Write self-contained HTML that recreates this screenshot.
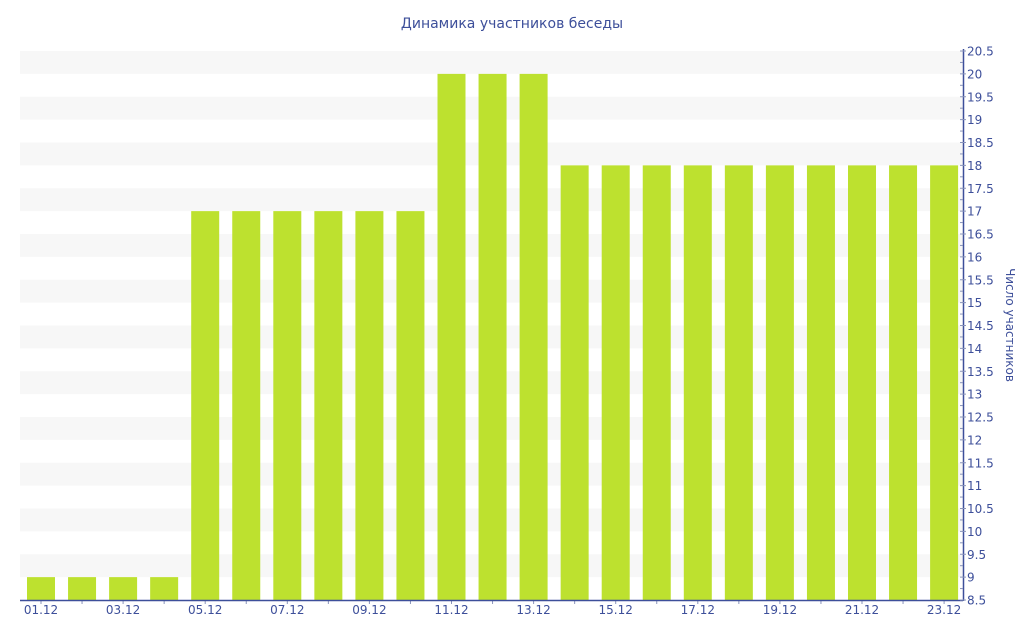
<!DOCTYPE html>
<html><head><meta charset="utf-8"><style>
html,body{margin:0;padding:0;background:#fff;width:1024px;height:640px;overflow:hidden}
text{font-family:"DejaVu Sans","Liberation Sans",sans-serif;fill:#3d4f9a}
</style></head><body>
<svg id="s" width="1024" height="640" xmlns="http://www.w3.org/2000/svg">
<text x="512" y="28" font-size="14" text-anchor="middle">Динамика участников беседы</text>
<g id="bands"></g><g id="bars"></g><g id="ax"></g>
<text transform="translate(1006,325) rotate(90)" font-size="12" text-anchor="middle">Число участников</text>
</svg>
<script>
var NS="http://www.w3.org/2000/svg";
function el(p,t,a,tx){var e=document.createElementNS(NS,t);for(var k in a)e.setAttribute(k,a[k]);if(tx!=null)e.textContent=tx;document.getElementById(p).appendChild(e);}
function Y(v){return 600-(v-8.5)*45.75;}
for(var k=9;k<=20;k++){el("bands","rect",{x:20,y:Y(k+0.5),width:943,height:Y(k)-Y(k+0.5),fill:"#f7f7f7"});}
var d=[9,9,9,9,17,17,17,17,17,17,20,20,20,18,18,18,18,18,18,18,18,18,18];
for(var i=0;i<23;i++){var c=41+41.05*i;el("bars","rect",{x:c-14,y:Y(d[i]),width:28,height:600-Y(d[i]),fill:"#bde12f"});
 el("ax","line",{x1:c,y1:600,x2:c,y2:604,stroke:"#8a94bb","stroke-width":1});
 if(i%2==0){var dd=(i+1<10?"0":"")+(i+1)+".12";el("ax","text",{x:c,y:614,"font-size":"12","text-anchor":"middle"},dd);}}
el("ax","line",{x1:20,y1:600.5,x2:963,y2:600.5,stroke:"#3d4f9a","stroke-width":1.5});
el("ax","line",{x1:963.5,y1:49,x2:963.5,y2:601,stroke:"#3d4f9a","stroke-width":1.5});
for(var v=8.5;v<=20.501;v+=0.25){var y=Y(v);var maj=Math.abs(v*2-Math.round(v*2))<0.01;
 el("ax","line",{x1:960,y1:y,x2:maj?966:963,y2:y,stroke:"#8a94bb","stroke-width":1});
 if(maj)el("ax","text",{x:967,y:y+4.5,"font-size":"12"},String(Math.round(v*10)/10));}
</script>
</body></html>
